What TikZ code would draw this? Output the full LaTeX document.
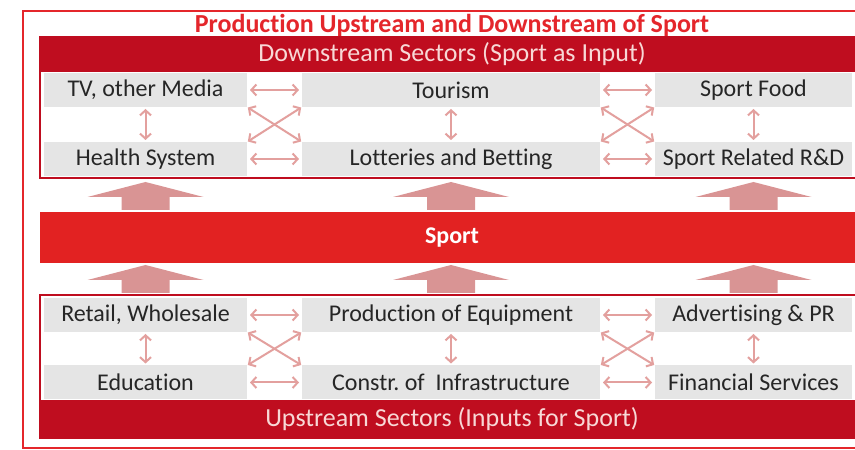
\documentclass[tikz,border=0pt]{standalone}
\usepackage{fontspec}
\setmainfont{Carlito}[Ligatures=NoCommon]
\usepackage{tikz}
\usetikzlibrary{
  arrows.meta,
  positioning,
  calc
}
\definecolor{spFrame}{HTML}{E4262B}
\definecolor{spDark}{HTML}{BF0D1F}
\definecolor{spSport}{HTML}{E22222}
\definecolor{spCell}{HTML}{E5E5E5}
\definecolor{spText}{HTML}{262626}
\definecolor{spHead}{HTML}{F8D8D6}
\definecolor{spBig}{HTML}{D99494}
\definecolor{spLink}{HTML}{E3A09E}
\tikzset{
  spnode/.style={inner sep=0pt, outer sep=0pt, font=\fontsize{24}{28}\selectfont},
  cell/.style={spnode, fill=spCell, text=spText, minimum height=34pt},
  colA/.style={cell, minimum width=203pt},
  colB/.style={cell, minimum width=298pt},
  colC/.style={cell, minimum width=197pt},
  sectorbox/.style={spnode, draw=spDark, line width=2.5pt, fill=white, minimum width=824pt},
  bandhead/.style={spnode, fill=spDark, text=spHead, minimum width=824pt, font=\fontsize{26}{30}\selectfont},
  sportband/.style={spnode, fill=spSport, text=white, minimum width=824pt, minimum height=51pt,
    font=\fontsize{24}{28}\selectfont\bfseries},
  headline/.style={spnode, text=spFrame, font=\fontsize{26}{30}\selectfont\bfseries},
  frame/.style={draw=spFrame, line width=2pt},
  link/.style={{Straight Barb[length=5pt,width=11pt]}-{Straight Barb[length=5pt,width=11pt]},
    line width=2pt, spLink, shorten <=3pt, shorten >=3pt},
  bigarrow/.style={fill=spBig}
}

\begin{document}
\begin{tikzpicture}[x=1pt, y=1pt]
  \useasboundingbox (0,0) rectangle (855,450);
  \clip (0,0) rectangle (855,450);
  \draw[frame] (23,2) rectangle (880,439);
  \node[headline] (title) at (452,425) {Production Upstream and Downstream of Sport};

  % downstream block
  \node[sectorbox, minimum height=141pt, anchor=north west] (down) at (40,413) {};
  \node[bandhead, minimum height=35pt, anchor=north west] (downhead) at (40,413) {Downstream Sectors (Sport as Input)};
  \node[colA] (tv) at (145.5,360) {TV, other Media};
  \node[colB] (tour) at (451,360) {Tourism};
  \node[colC] (food) at (753.5,360) {Sport Food};
  \node[colA] (health) at (145.5,291) {Health System};
  \node[colB] (lotto) at (451,291) {Lotteries and Betting};
  \node[colC] (rnd) at (753.5,291) {Sport Related R\&D};
  \draw[draw=spDark, line width=2.5pt] (down.south west) rectangle (down.north east);

  % sport
  \node[sportband] (sport) at (452,212.5) {Sport};

  % upstream block
  \node[sectorbox, line width=1.5pt, minimum height=143pt, anchor=north west] (up) at (40,155) {};
  \node[bandhead, minimum height=38pt, anchor=south west] (uphead) at (40,12) {Upstream Sectors (Inputs for Sport)};
  \node[colA] (retail) at (145.5,135) {Retail, Wholesale};
  \node[colB] (equip) at (451,135) {Production of Equipment};
  \node[colC] (advert) at (753.5,135) {Advertising \& PR};
  \node[colA] (edu) at (145.5,67.5) {Education};
  \node[colB] (infra) at (451,67.5) {Constr.\ of\ \ Infrastructure};
  \node[colC] (finance) at (753.5,67.5) {Financial Services};
  \draw[draw=spDark, line width=1.5pt] (up.south west) rectangle (up.north east);

  % big arrows into sport and out of sport
  \foreach \x in {145.5,451,753.5}{
    \fill[bigarrow] (\x-24,240) -- (\x-24,253) -- (\x-58,253) -- (\x,268)
      -- (\x+58,253) -- (\x+24,253) -- (\x+24,240) -- cycle;
    \fill[bigarrow] (\x-24,157) -- (\x-24,170) -- (\x-58,170) -- (\x,185)
      -- (\x+58,170) -- (\x+24,170) -- (\x+24,157) -- cycle;
  }

  % links downstream
  \draw[link] (tv) -- (tour);
  \draw[link] (tour) -- (food);
  \draw[link] (health) -- (lotto);
  \draw[link] (lotto) -- (rnd);
  \draw[link, shorten <=2pt, shorten >=2pt] (tv) -- (health);
  \draw[link, shorten <=2pt, shorten >=2pt] (tour) -- (lotto);
  \draw[link, shorten <=2pt, shorten >=2pt] (food) -- (rnd);
  \draw[link, shorten <=1pt, shorten >=1pt] (tv.south east) -- (lotto.north west);
  \draw[link, shorten <=1pt, shorten >=1pt] (health.north east) -- (tour.south west);
  \draw[link, shorten <=1pt, shorten >=1pt] (tour.south east) -- (rnd.north west);
  \draw[link, shorten <=1pt, shorten >=1pt] (lotto.north east) -- (food.south west);

  % links upstream
  \draw[link] (retail) -- (equip);
  \draw[link] (equip) -- (advert);
  \draw[link] (edu) -- (infra);
  \draw[link] (infra) -- (finance);
  \draw[link, shorten <=2pt, shorten >=2pt] (retail) -- (edu);
  \draw[link, shorten <=2pt, shorten >=2pt] (equip) -- (infra);
  \draw[link, shorten <=2pt, shorten >=2pt] (advert) -- (finance);
  \draw[link, shorten <=1pt, shorten >=1pt] (retail.south east) -- (infra.north west);
  \draw[link, shorten <=1pt, shorten >=1pt] (edu.north east) -- (equip.south west);
  \draw[link, shorten <=1pt, shorten >=1pt] (equip.south east) -- (finance.north west);
  \draw[link, shorten <=1pt, shorten >=1pt] (infra.north east) -- (advert.south west);
\end{tikzpicture}
\end{document}
